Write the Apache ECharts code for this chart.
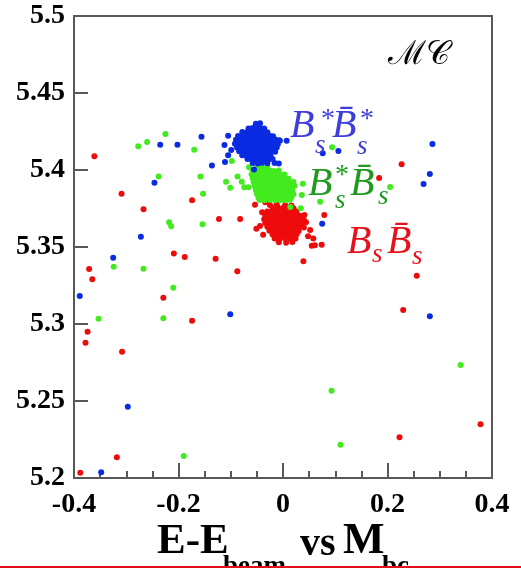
<!DOCTYPE html>
<html><head><meta charset="utf-8">
<script src="https://cdn.jsdelivr.net/npm/echarts@6/dist/echarts.min.js"></script>
<style>html,body{margin:0;padding:0;background:#fff}#chart{width:521px;height:571px}</style>
</head><body><div id="chart"></div><script>
// Axis ranges and tick spacing
const xRange = [-0.4, 0.4], xStep = 0.2;
const yRange = [5.2, 5.5], yStep = 0.05;

// Bs Bs-bar candidates: dense core plus scattered entries  [E-Ebeam, Mbc]
const redCore = [
  [-0.025,5.3772],[-0.012,5.3776],[0.004,5.3773],[0.016,5.3770],
  [-0.020,5.3755],[-0.010,5.3758],[0.000,5.3754],[0.010,5.3757],[0.020,5.3752],
  [-0.030,5.3731],[-0.022,5.3728],[-0.014,5.3732],[-0.006,5.3729],[0.002,5.3731],[0.010,5.3728],[0.018,5.3732],[0.026,5.3730],
  [-0.034,5.3706],[-0.026,5.3703],[-0.018,5.3707],[-0.010,5.3704],[-0.002,5.3706],[0.006,5.3703],[0.014,5.3707],[0.022,5.3704],[0.028,5.3706],[0.034,5.3702],
  [-0.036,5.3681],[-0.028,5.3678],[-0.020,5.3682],[-0.012,5.3679],[-0.004,5.3681],[0.004,5.3678],[0.012,5.3682],[0.020,5.3679],[0.028,5.3681],[0.034,5.3678],[0.040,5.3676],
  [-0.034,5.3656],[-0.026,5.3653],[-0.018,5.3657],[-0.010,5.3654],[-0.002,5.3656],[0.006,5.3653],[0.014,5.3657],[0.022,5.3654],[0.030,5.3656],[0.036,5.3653],
  [-0.030,5.3631],[-0.022,5.3628],[-0.014,5.3632],[-0.006,5.3629],[0.002,5.3631],[0.010,5.3628],[0.018,5.3632],[0.026,5.3629],[0.033,5.3631],[0.040,5.3626],
  [-0.026,5.3606],[-0.018,5.3603],[-0.010,5.3607],[-0.002,5.3604],[0.006,5.3606],[0.014,5.3603],[0.022,5.3607],[0.030,5.3604],
  [-0.020,5.3581],[-0.012,5.3578],[-0.004,5.3582],[0.004,5.3579],[0.012,5.3581],[0.020,5.3578],[0.026,5.3582],
  [-0.016,5.3556],[-0.006,5.3553],[0.004,5.3557],[0.014,5.3554],[0.024,5.3556],
  [-0.008,5.3531],[0.006,5.3528],[0.018,5.3532]
];
const redScatter = [
  [-0.361,5.4090],[-0.309,5.3846],[-0.174,5.3803],[-0.267,5.3745],[-0.209,5.3457],[-0.188,5.3435],[-0.129,5.3424],
  [-0.371,5.3357],[-0.365,5.3290],[-0.229,5.3171],[-0.174,5.3021],[-0.374,5.2950],[-0.378,5.2879],[-0.308,5.2820],
  [-0.318,5.2134],[-0.388,5.2034],[-0.0875,5.3342],[0.039,5.3407],[0.256,5.3314],[0.230,5.3091],[0.378,5.2349],
  [0.223,5.2264],[0.227,5.4037],[0.184,5.3948],[0.079,5.3708],[0.055,5.3508],[-0.1225,5.3682],[-0.082,5.3682],
  [-0.0536,5.3775],[-0.051,5.3619],[-0.044,5.3636],[-0.038,5.3580],[0.061,5.3511],[0.074,5.3515],[0.058,5.3556],
  [0.052,5.3610],[0.041,5.3708],[0.044,5.3660],[0.048,5.3570],[-0.040,5.3725],[-0.034,5.3790]
];

// Bs* Bs-bar candidates
const greenCore = [
  [-0.050,5.4021],[-0.040,5.4018],[-0.030,5.4022],
  [-0.058,5.3996],[-0.050,5.3993],[-0.042,5.3997],[-0.034,5.3994],[-0.026,5.3996],[-0.018,5.3993],[-0.008,5.3997],
  [-0.060,5.3971],[-0.052,5.3968],[-0.044,5.3972],[-0.037,5.3969],[-0.029,5.3971],[-0.021,5.3968],[-0.013,5.3972],[-0.005,5.3969],[0.003,5.3971],
  [-0.058,5.3946],[-0.051,5.3943],[-0.043,5.3947],[-0.035,5.3944],[-0.028,5.3946],[-0.020,5.3943],[-0.012,5.3947],[-0.004,5.3944],[0.004,5.3946],[0.011,5.3943],
  [-0.056,5.3921],[-0.048,5.3918],[-0.041,5.3922],[-0.033,5.3919],[-0.025,5.3921],[-0.017,5.3918],[-0.010,5.3922],[-0.002,5.3919],[0.006,5.3921],[0.014,5.3918],[0.020,5.3922],
  [-0.054,5.3896],[-0.046,5.3893],[-0.038,5.3897],[-0.030,5.3894],[-0.023,5.3896],[-0.015,5.3893],[-0.007,5.3897],[0.001,5.3894],[0.008,5.3896],[0.016,5.3893],[0.022,5.3897],
  [-0.052,5.3871],[-0.044,5.3868],[-0.036,5.3872],[-0.028,5.3869],[-0.021,5.3871],[-0.013,5.3868],[-0.005,5.3872],[0.002,5.3869],[0.010,5.3871],[0.018,5.3868],
  [-0.050,5.3846],[-0.042,5.3843],[-0.034,5.3847],[-0.026,5.3844],[-0.019,5.3846],[-0.011,5.3843],[-0.003,5.3847],[0.005,5.3844],[0.013,5.3846],[0.020,5.3843],
  [-0.047,5.3821],[-0.039,5.3818],[-0.031,5.3822],[-0.024,5.3819],[-0.016,5.3821],[-0.008,5.3818],[0.000,5.3822],[0.008,5.3819],[0.016,5.3821],
  [-0.045,5.3806],[-0.035,5.3803],[-0.025,5.3807],[-0.015,5.3804],[-0.005,5.3806],[0.005,5.3803],[0.013,5.3807]
];
const greenScatter = [
  [-0.277,5.4154],[-0.260,5.4182],[-0.225,5.4234],[-0.170,5.4132],[-0.238,5.3957],[-0.158,5.3957],[-0.153,5.3846],
  [-0.218,5.3660],[-0.214,5.3634],[-0.154,5.3647],[-0.324,5.3372],[-0.267,5.3359],[-0.210,5.3236],[-0.353,5.3034],
  [-0.229,5.3037],[-0.190,5.2143],[0.093,5.2567],[0.110,5.2216],[0.340,5.2734],[0.205,5.3890],[0.094,5.4148],
  [0.038,5.3911],[0.071,5.3794],[0.034,5.3751],[0.036,5.3838],[0.014,5.3760],[-0.109,5.3924],[-0.101,5.3885],
  [-0.087,5.3957],[-0.079,5.3924],[-0.065,5.4018],[-0.074,5.3888],[-0.066,5.3888],[-0.098,5.4058]
];

// Bs* Bs*-bar candidates
const blueCore = [
  [-0.052,5.4300],[-0.044,5.4303],
  [-0.066,5.4270],[-0.058,5.4272],[-0.050,5.4268],[-0.043,5.4273],[-0.036,5.4269],
  [-0.078,5.4246],[-0.070,5.4243],[-0.062,5.4247],[-0.054,5.4244],[-0.046,5.4246],[-0.038,5.4242],[-0.030,5.4245],
  [-0.086,5.4221],[-0.079,5.4218],[-0.071,5.4223],[-0.064,5.4219],[-0.056,5.4222],[-0.049,5.4218],[-0.041,5.4221],[-0.034,5.4217],[-0.026,5.4222],[-0.019,5.4219],
  [-0.090,5.4196],[-0.083,5.4193],[-0.075,5.4197],[-0.068,5.4194],[-0.060,5.4196],[-0.052,5.4192],[-0.045,5.4197],[-0.037,5.4193],[-0.029,5.4196],[-0.022,5.4194],[-0.014,5.4197],[-0.007,5.4193],
  [-0.092,5.4171],[-0.085,5.4168],[-0.077,5.4172],[-0.069,5.4169],[-0.062,5.4171],[-0.054,5.4167],[-0.047,5.4172],[-0.039,5.4168],[-0.031,5.4171],[-0.024,5.4169],[-0.016,5.4172],[-0.010,5.4168],
  [-0.088,5.4146],[-0.080,5.4143],[-0.073,5.4147],[-0.065,5.4144],[-0.057,5.4146],[-0.050,5.4142],[-0.042,5.4147],[-0.035,5.4143],[-0.027,5.4146],[-0.020,5.4144],[-0.012,5.4146],
  [-0.084,5.4121],[-0.076,5.4118],[-0.068,5.4122],[-0.061,5.4119],[-0.053,5.4121],[-0.046,5.4117],[-0.038,5.4122],[-0.030,5.4118],[-0.023,5.4121],[-0.015,5.4119],
  [-0.078,5.4096],[-0.070,5.4093],[-0.062,5.4097],[-0.055,5.4094],[-0.047,5.4096],[-0.040,5.4092],[-0.032,5.4097],[-0.024,5.4094],
  [-0.068,5.4071],[-0.060,5.4068],[-0.052,5.4072],[-0.044,5.4069],[-0.036,5.4071],[-0.028,5.4068],[-0.020,5.4072],
  [-0.058,5.4046],[-0.048,5.4043],[-0.040,5.4047],[-0.030,5.4044],[-0.016,5.4046],[-0.008,5.4043]
];
const blueScatter = [
  [-0.235,5.4164],[-0.202,5.4164],[-0.156,5.4216],[-0.136,5.4030],[-0.246,5.3918],[-0.272,5.3567],[-0.325,5.3430],
  [-0.389,5.3182],[-0.297,5.2463],[-0.348,5.2037],[-0.101,5.3063],[0.281,5.3050],[0.286,5.4169],[0.281,5.3974],
  [0.269,5.3909],[0.076,5.4108],[0.106,5.4123],[0.075,5.3651],[-0.006,5.4190],[0.007,5.4190],[-0.105,5.4223],
  [-0.112,5.4162],[-0.105,5.4095],[-0.111,5.4052],[-0.099,5.4130],[-0.0555,5.4004]
];

const colors = { red: '#ee0b0b', green: '#42ea1e', blue: '#0b2be2' };
const serif = '"Liberation Serif", "DejaVu Serif", serif';

const chart = echarts.init(document.getElementById('chart'), null, { renderer: 'canvas' });
const axisColor = '#585858';

function scatter(name, data, color) {
  return {
    name, type: 'scatter', data, symbol: 'circle', symbolSize: 6,
    itemStyle: { color, opacity: 1 }, silent: true, animation: false
  };
}

chart.setOption({
  animation: false,
  backgroundColor: '#ffffff',
  grid: { left: 74, right: 29, top: 16, bottom: 93, show: true, borderColor: axisColor, borderWidth: 2 },
  xAxis: {
    type: 'value', min: xRange[0], max: xRange[1], interval: xStep,
    axisLine: { show: true, onZero: false, lineStyle: { color: axisColor, width: 2 } },
    axisTick: { show: true, inside: true, length: 15, lineStyle: { color: axisColor, width: 2 } },
    minorTick: { show: true, splitNumber: 4, length: 7, lineStyle: { color: axisColor, width: 2 } },
    splitLine: { show: false }, minorSplitLine: { show: false },
    axisLabel: { margin: 13, color: '#000', fontFamily: serif, fontWeight: 'bold', fontSize: 28 }
  },
  yAxis: {
    type: 'value', min: yRange[0], max: yRange[1], interval: yStep,
    axisLine: { show: true, onZero: false, lineStyle: { color: axisColor, width: 2 } },
    axisTick: { show: true, inside: true, length: 14, lineStyle: { color: axisColor, width: 2 } },
    splitLine: { show: false },
    axisLabel: { margin: 9, color: '#000', fontFamily: serif, fontWeight: 'bold', fontSize: 28 }
  },
  series: [
    scatter('BsBs', redCore.concat(redScatter), colors.red),
    scatter('Bs*Bs', greenCore.concat(greenScatter), colors.green),
    scatter('Bs*Bs*', blueCore.concat(blueScatter), colors.blue)
  ]
});

// Channel labels: anchor in data coordinates, parts as [text, dx, dy, size, italic]
const labels = [
  { color: '#3d3ddb', at: [0.0134, 5.4282], parts: [
    ['B', 0, 0, 40], ['*', 31, -7, 28, false], ['s', 25, 19, 27],
    ['B\u0304', 42, 0, 40], ['*', 70, -7, 28, false], ['s', 67, 20, 27] ] },
  { color: '#1f9a1f', at: [0.0478, 5.3903], parts: [
    ['B', 0, 0, 40], ['*', 27, -9, 28, false], ['s', 27, 16, 27],
    ['B\u0304', 42, 0, 40], ['s', 70, 12, 27] ] },
  { color: '#e8101a', at: [0.1225, 5.3529], parts: [
    ['B', 0, 0, 40], ['s', 25, 12, 27],
    ['B\u0304', 40, 0, 40], ['s', 65, 14, 27] ] }
];

function textEl(text, x, y, size, color, italic, bold) {
  return {
    type: 'text', x, y, silent: true, z: 100,
    style: {
      text, fill: color, fontSize: size, fontFamily: serif,
      fontStyle: italic ? 'italic' : 'normal', fontWeight: bold ? 'bold' : 'normal',
      textAlign: 'left', textVerticalAlign: 'middle', align: 'left', verticalAlign: 'middle'
    }
  };
}

const graphics = [];
labels.forEach(l => {
  const p = chart.convertToPixel({ gridIndex: 0 }, l.at);
  l.parts.forEach(([t, dx, dy, size, italic]) => {
    graphics.push(textEl(t, p[0] + dx, p[1] + dy, size, l.color, italic !== false, false));
  });
});

// Monte Carlo tag
const mcAt = chart.convertToPixel({ gridIndex: 0 }, [0.201, 5.476]);
graphics.push(textEl('\u2133\uD835\uDC9E', mcAt[0], mcAt[1] + 2, 33, '#000', false, false));

// Axis caption with subscripts
[['E-E', 157, 542, 43], ['beam', 223, 567, 27], ['vs', 300, 545, 40], ['M', 343, 542, 44], ['bc', 382, 567, 27]]
  .forEach(([t, x, y, s]) => graphics.push(textEl(t, x, y, s, '#000', false, true)));

// Bottom rule
graphics.push({ type: 'rect', z: 120, silent: true, shape: { x: 0, y: 568, width: 521, height: 3 }, style: { fill: '#fff' } });
graphics.push({ type: 'rect', z: 121, silent: true, shape: { x: 0, y: 566, width: 521, height: 2 }, style: { fill: '#e2101c' } });

chart.setOption({ graphic: graphics });
</script></body></html>
